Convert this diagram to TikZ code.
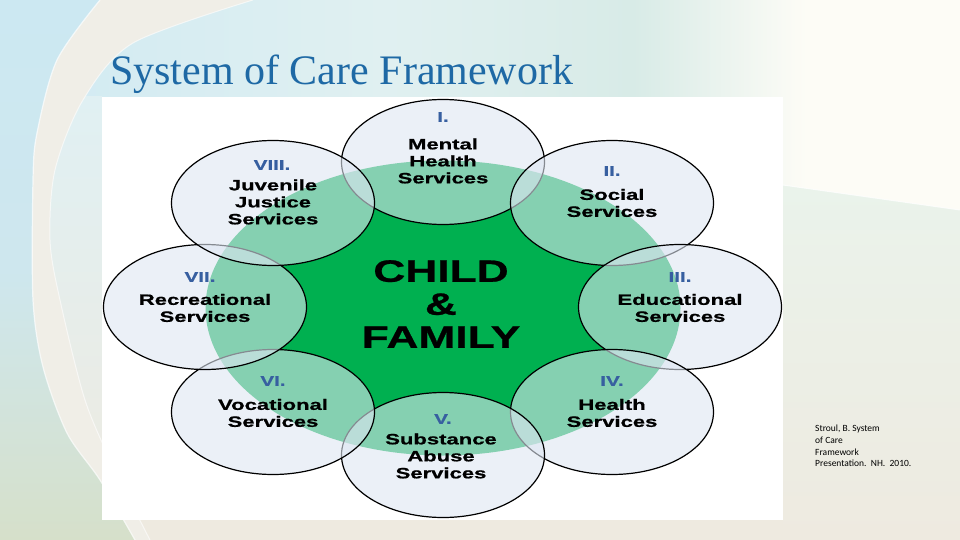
\documentclass[tikz,border=0pt]{standalone}
\usepackage{fontspec}
\setmainfont{Liberation Serif}
\newfontfamily\lblfont{Liberation Sans}[FakeStretch=1.47, BoldFeatures={FakeBold=0.8}]
\newfontfamily\bigfont{Liberation Sans}[FakeStretch=1.43, BoldFeatures={FakeBold=0.8}]
\newfontfamily\citefont{Carlito}
\usetikzlibrary{shapes.geometric}
\definecolor{dkgreen}{RGB}{0,176,80}
\definecolor{circfill}{RGB}{222,230,242}
\definecolor{numblue}{RGB}{55,95,160}
\definecolor{titleblue}{RGB}{30,105,165}
\definecolor{bgbeige}{RGB}{238,234,224}
\definecolor{tbA}{RGB}{208,234,243}
\definecolor{tbB}{RGB}{224,240,241}
\definecolor{tbC}{RGB}{216,235,231}
\definecolor{tbD}{RGB}{253,252,246}
\definecolor{leftTop}{RGB}{204,232,242}
\definecolor{leftMid}{RGB}{206,231,238}
\definecolor{leftBot}{RGB}{214,224,202}
\definecolor{stripTop}{RGB}{224,240,243}
\definecolor{bandcol}{RGB}{240,238,231}
\definecolor{mint}{RGB}{234,243,235}
\pgfdeclarehorizontalshading{topband}{100bp}{color(0bp)=(tbA); color(25bp)=(tbA); color(45bp)=(tbB); color(58bp)=(tbC); color(67bp)=(tbD); color(100bp)=(tbD)}
\tikzset{
  svc/.style={ellipse, minimum width=203pt, minimum height=125pt, inner sep=0pt,
    fill=circfill, fill opacity=0.6, draw=black, line width=1.2pt},
  core/.style={ellipse, minimum width=475pt, minimum height=295pt, inner sep=0pt, fill=dkgreen},
  num/.style={font=\lblfont\bfseries\fontsize{14}{16}\selectfont, text=numblue, inner sep=0pt},
  lbl/.style={font=\lblfont\bfseries\fontsize{15}{17}\selectfont, align=center, text=black, inner sep=0pt},
}
\begin{document}
\begin{tikzpicture}[x=1pt, y=-1pt]
\useasboundingbox (0,0) rectangle (960,540);
% background
\fill[bgbeige] (0,0) rectangle (960,540);
\shade[shading=topband] (0,0) -- (960,0) -- (960,210) -- (783,185) -- (0,185) -- cycle;
\shade[top color=mint, bottom color=bgbeige] (783,185) -- (960,210) -- (960,540) -- (783,540) -- cycle;
\draw[white, line width=1pt, opacity=0.8] (783,185) -- (960,210);
\shade[top color=stripTop, bottom color=bgbeige] (0,97) rectangle (102,540);
\fill[bandcol] plot[smooth] coordinates {(100,0) (57,60) (37,133) (33,180) (33,300) (43,367) (67,433) (100,480) (135,540)}
   -- plot[smooth] coordinates {(150,540) (115,470) (85,400) (60,300) (50,240) (55,170) (83,100) (133,43) (253,0)} -- cycle;
\shade[top color=leftTop, bottom color=leftBot, middle color=leftMid] plot[smooth] coordinates {(100,0) (57,60) (37,133) (33,180) (33,300) (43,367) (67,433) (100,480) (135,540)} -- (0,540) -- (0,0) -- cycle;
\draw[white, line width=1.2pt, opacity=0.7] plot[smooth] coordinates {(100,0) (57,60) (37,133) (33,180) (33,300) (43,367) (67,433) (100,480) (135,540)};
\draw[white, line width=1pt, opacity=0.6] plot[smooth] coordinates {(253,0) (133,43) (83,100) (55,170) (50,240) (60,300) (85,400) (115,470) (150,540)};
% picture area
\fill[white] (102,97) rectangle (783,520);
% title
\node[anchor=base west, inner sep=0pt, text=titleblue, font=\fontsize{42}{46}\selectfont] (title) at (110,85) {System of Care Framework};
% core
\node[core] (core) at (443,308) {};
% service circles
\node[svc] (c1) at (443,162) {};
\node[svc] (c2) at (612,203) {};
\node[svc] (c3) at (680,307) {};
\node[svc] (c4) at (612,412) {};
\node[svc] (c5) at (443,455) {};
\node[svc] (c6) at (273,412) {};
\node[svc] (c7) at (205,307) {};
\node[svc] (c8) at (273,203) {};
% labels
\node[num] (n1) at (443,117) {I.};
\node[lbl] (t1) at (443,161) {Mental\\Health\\Services};
\node[num] (n2) at (612,171) {II.};
\node[lbl] (t2) at (612,203) {Social\\Services};
\node[num] (n3) at (680,277) {III.};
\node[lbl] (t3) at (680,308) {Educational\\Services};
\node[num] (n4) at (612,381) {IV.};
\node[lbl] (t4) at (612,413) {Health\\Services};
\node[num] (n5) at (443,419) {V.};
\node[lbl] (t5) at (441,456) {Substance\\Abuse\\Services};
\node[num] (n6) at (273,381) {VI.};
\node[lbl] (t6) at (273,413) {Vocational\\Services};
\node[num] (n7) at (200,277) {VII.};
\node[lbl] (t7) at (205,308) {Recreational\\Services};
\node[num] (n8) at (272,165) {VIII.};
\node[lbl] (t8) at (273,202) {Juvenile\\Justice\\Services};
\node[font=\bigfont\bfseries\fontsize{31}{33}\selectfont, align=center, inner sep=0pt] (cf) at (441,304) {CHILD\\\&\\FAMILY};
% citation
\node[anchor=north west, align=left, inner sep=0pt, font=\citefont\fontsize{9.5}{11.7}\selectfont] (cite) at (815,425)
  {Stroul, B. System\\of Care\\Framework\\Presentation.\ \ NH.\ \ 2010.};
\end{tikzpicture}
\end{document}
